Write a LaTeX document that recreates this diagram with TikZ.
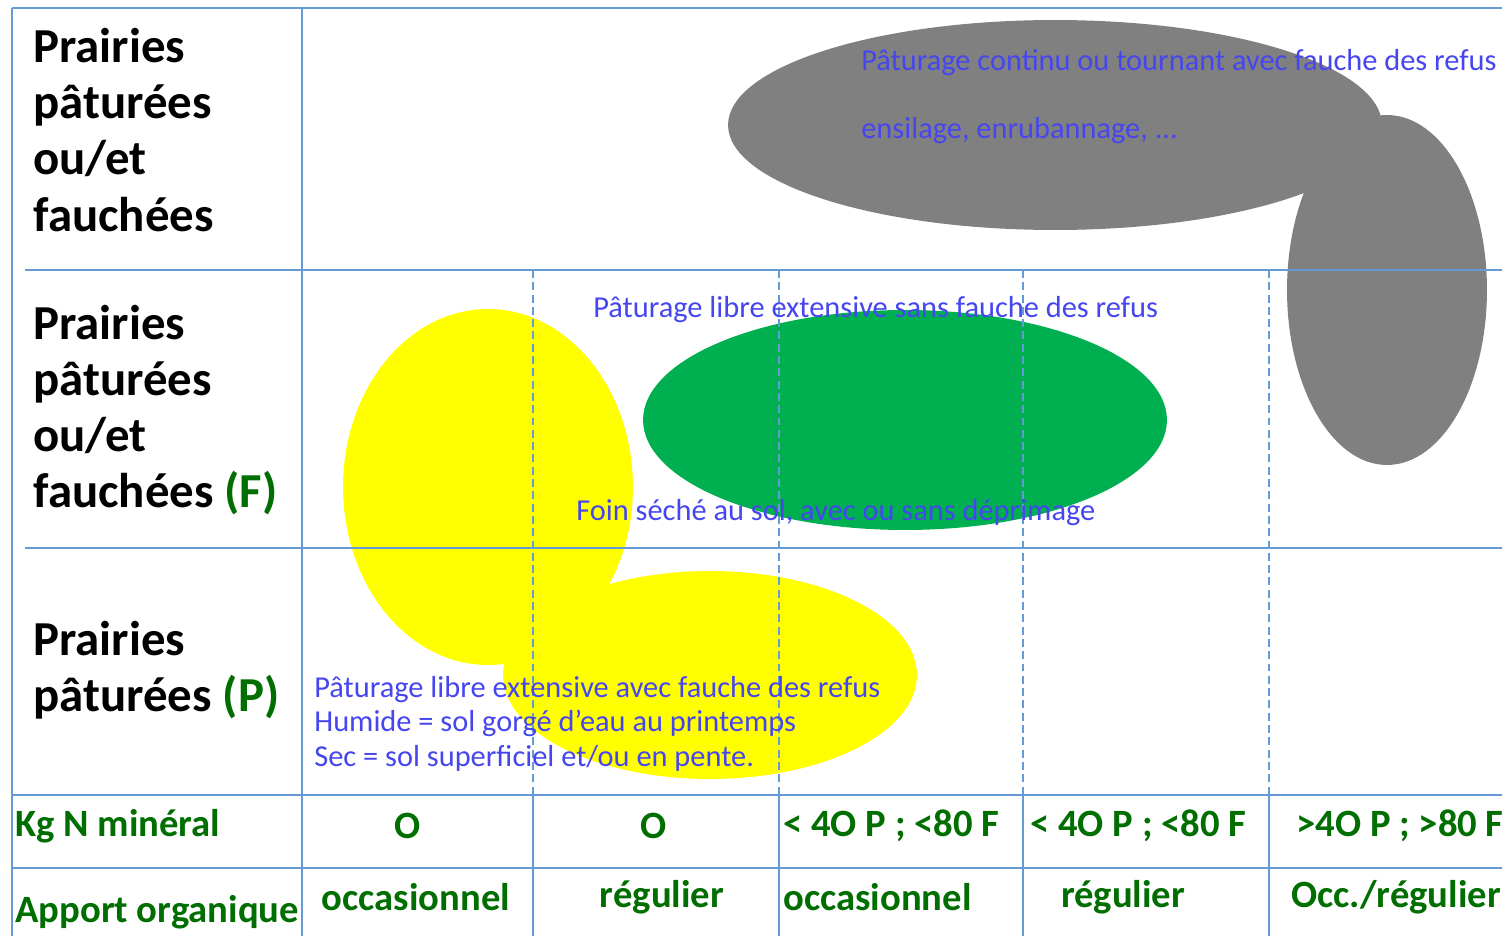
\documentclass[tikz,border=0pt]{standalone}
\usepackage{fontspec}
\setmainfont{Carlito}
\definecolor{gridc}{RGB}{100,155,215}
\definecolor{txtblue}{RGB}{70,70,240}
\definecolor{dgreen}{RGB}{0,110,0}
\definecolor{ggray}{RGB}{128,128,128}
\definecolor{egreen}{RGB}{0,176,80}
\definecolor{eyellow}{RGB}{255,255,0}
\tikzset{
  gridline/.style={draw=gridc, line width=1.2pt},
  dashline/.style={draw=gridc, line width=0.75pt, dash pattern=on 4.5pt off 2.5pt},
  rowlabel/.style={anchor=west, inner sep=0pt, align=left, font=\fontsize{27.8}{31.9}\selectfont\bfseries, text=black},
  celltxt/.style={inner sep=0pt, font=\fontsize{22}{25}\selectfont\bfseries, text=dgreen},
  bluetxt/.style={anchor=west, inner sep=0pt, font=\fontsize{17.3}{20}\selectfont, text=txtblue},
}
\begin{document}
\begin{tikzpicture}[x=0.02cm,y=-0.02cm]
\useasboundingbox (0,0) rectangle (1502,936);
\clip (0,0) rectangle (1502,936);
\fill[white] (0,0) rectangle (1502,936);
% ellipses
\fill[ggray] (1055,125) ellipse [x radius=6.54cm, y radius=2.1cm];
\fill[ggray] (1387,290) ellipse [x radius=2cm, y radius=3.5cm];
\fill[eyellow] (488,487) ellipse [x radius=2.9cm, y radius=3.56cm];
\fill[egreen] (905,420) ellipse [x radius=5.24cm, y radius=2.2cm];
\fill[eyellow] (710,675) ellipse [x radius=4.14cm, y radius=2.08cm];
% grid
\draw[gridline, line width=1.6pt] (12,8) -- (1502,8);
\draw[gridline] (12,8) -- (12,936);
\draw[gridline] (302,8) -- (302,936);
\draw[gridline] (25,270) -- (1502,270);
\draw[gridline] (25,548) -- (1502,548);
\draw[gridline] (12,795) -- (1502,795);
\draw[gridline] (12,868) -- (1502,868);
\foreach \xx in {533,779,1023,1269}{
  \draw[dashline] (\xx,270) -- (\xx,795);
  \draw[gridline, line width=0.8pt] (\xx,795) -- (\xx,936);
}
% row labels
\node[rowlabel] (r1) at (33,130) {Prairies\\pâturées\\ou/et\\fauchées};
\node[rowlabel] (r2) at (33,410) {Prairies\\pâturées\\ou/et\\fauchées \textcolor{dgreen}{(F)}};
\node[rowlabel] (r3) at (33,670) {Prairies\\pâturées \textcolor{dgreen}{(P)}};
% blue texts
\node[bluetxt] (t1) at (861,63) {Pâturage continu ou tournant avec fauche des refus};
\node[bluetxt] (t2) at (861,131) {ensilage, enrubannage, ...};
\node[bluetxt] (t3) at (593,310) {Pâturage libre extensive sans fauche des refus};
\node[bluetxt] (t4) at (576,513) {Foin séché au sol, avec ou sans déprimage};
\node[bluetxt] (t5) at (314,690) {Pâturage libre extensive avec fauche des refus};
\node[bluetxt] (t6) at (314,723) {Humide = sol gorgé d’eau au printemps};
\node[bluetxt] (t7) at (314,758) {Sec = sol superficiel et/ou en pente.};
% bottom table
\node[celltxt, anchor=west] (k0) at (15,826) {Kg N minéral};
\node[celltxt] (k1) at (408,826) {O};
\node[celltxt] (k2) at (654,826) {O};
\node[celltxt, anchor=west] (k3) at (783,826) {< 4O P ; <80 F};
\node[celltxt, anchor=west] (k4) at (1030,826) {< 4O P ; <80 F};
\node[celltxt, anchor=west] (k5) at (1296,826) {>4O P ; >80 F};
\node[celltxt, anchor=west] (a0) at (15,912) {Apport organique};
\node[celltxt] (a1) at (416,897) {occasionnel};
\node[celltxt] (a2) at (662,897) {régulier};
\node[celltxt, anchor=west] (a3) at (783,897) {occasionnel};
\node[celltxt] (a4) at (1123,897) {régulier};
\node[celltxt, anchor=west] (a5) at (1291,897) {Occ./régulier};
\end{tikzpicture}
\end{document}
